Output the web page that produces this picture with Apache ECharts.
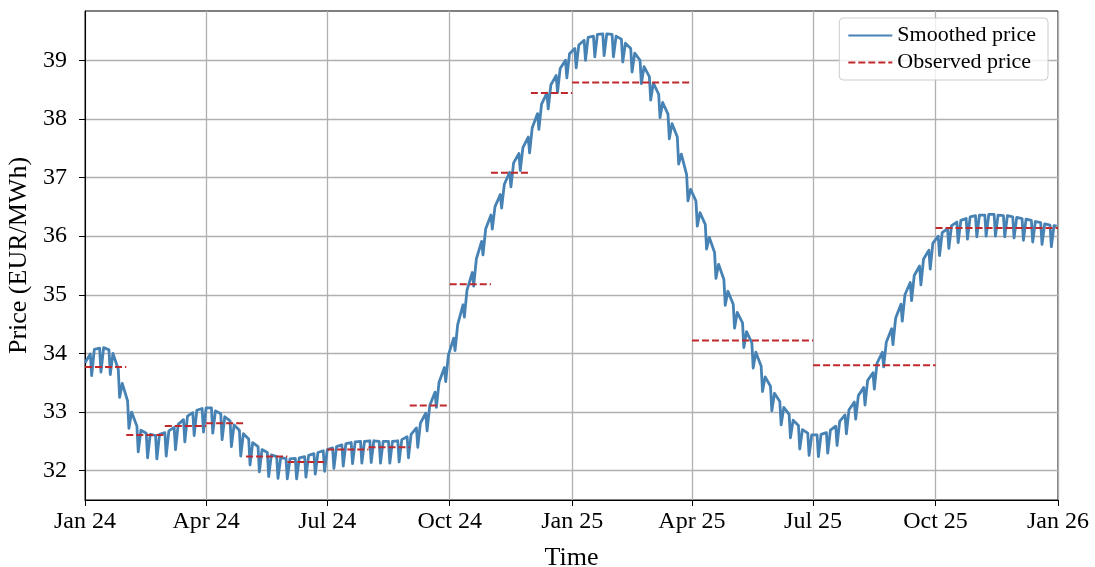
<!DOCTYPE html>
<html>
<head>
<meta charset="utf-8">
<script src="https://cdn.jsdelivr.net/npm/echarts@6/dist/echarts.min.js"></script>
<style>
  html, body { margin: 0; padding: 0; background: #ffffff; }
  #chart { width: 1095px; height: 567px; }
</style>
</head>
<body>
<div id="chart"></div>
<script>
// Smoothed daily price: one value per week for Monday, Friday and the weekend trough.
// Week k starts on Monday 1 Jan 2024 + 7k days; the last week stops on Wed 31 Dec 2025.
const mondayPrice = [
  33.84, 34.07, 34.10, 34.00, 33.49, 33.00, 32.69, 32.62, 32.62, 32.68,
  32.79, 32.93, 33.03, 33.07, 33.02, 32.92, 32.78, 32.63, 32.48, 32.36,
  32.27, 32.22, 32.20, 32.22, 32.26, 32.31, 32.36, 32.41, 32.46, 32.49,
  32.50, 32.51, 32.50, 32.50, 32.53, 32.62, 32.81, 33.11, 33.51, 33.97,
  34.49, 35.08, 35.61, 36.12, 36.50, 36.88, 37.25, 37.51, 37.85, 38.25,
  38.58, 38.86, 39.11, 39.26, 39.39, 39.44, 39.45, 39.41, 39.29, 39.12,
  38.89, 38.61, 38.28, 37.92, 37.40, 36.80, 36.40, 35.98, 35.52, 35.06,
  34.70, 34.37, 34.02, 33.60, 33.32, 33.08, 32.86, 32.70, 32.61, 32.62,
  32.69, 32.84, 33.04, 33.28, 33.54, 33.83, 34.19, 34.60, 35.00, 35.33,
  35.61, 35.88, 36.06, 36.18, 36.27, 36.33, 36.36, 36.37, 36.36, 36.35,
  36.32, 36.29, 36.25, 36.21, 36.18
];
const fridayPrice = [
  33.99, 34.09, 34.06, 33.73, 33.19, 32.76, 32.64, 32.60, 32.65, 32.74,
  32.87, 32.99, 33.06, 33.07, 32.97, 32.85, 32.69, 32.54, 32.41, 32.31,
  32.24, 32.21, 32.21, 32.24, 32.29, 32.34, 32.39, 32.44, 32.48, 32.50,
  32.51, 32.50, 32.50, 32.51, 32.58, 32.73, 32.98, 33.34, 33.76, 34.26,
  34.83, 35.38, 35.91, 36.36, 36.71, 37.09, 37.41, 37.69, 38.09, 38.44,
  38.74, 39.00, 39.20, 39.34, 39.41, 39.45, 39.44, 39.36, 39.20, 39.00,
  38.72, 38.42, 38.08, 37.69, 37.05, 36.60, 36.20, 35.72, 35.26, 34.84,
  34.52, 34.18, 33.78, 33.44, 33.18, 32.96, 32.77, 32.64, 32.61, 32.65,
  32.76, 32.95, 33.17, 33.42, 33.67, 34.02, 34.42, 34.84, 35.21, 35.49,
  35.76, 36.00, 36.13, 36.24, 36.30, 36.35, 36.36, 36.37, 36.35, 36.33,
  36.30, 36.27, 36.23, 36.19, 36.17
];
const weekendPrice = [
  33.62, 33.68, 33.64, 33.25, 32.72, 32.32, 32.22, 32.20, 32.25, 32.36,
  32.49, 32.60, 32.66, 32.64, 32.53, 32.41, 32.25, 32.10, 31.98, 31.90,
  31.87, 31.86, 31.86, 31.89, 31.94, 31.99, 32.04, 32.08, 32.12, 32.13,
  32.14, 32.13, 32.13, 32.15, 32.22, 32.40, 32.68, 33.08, 33.52, 34.05,
  34.62, 35.15, 35.68, 36.12, 36.48, 36.84, 37.12, 37.42, 37.82, 38.17,
  38.45, 38.70, 38.87, 39.00, 39.06, 39.08, 39.06, 38.97, 38.80, 38.60,
  38.32, 38.02, 37.66, 37.23, 36.60, 36.17, 35.78, 35.28, 34.82, 34.43,
  34.10, 33.75, 33.35, 33.02, 32.78, 32.56, 32.37, 32.26, 32.24, 32.30,
  32.43, 32.63, 32.88, 33.12, 33.39, 33.77, 34.15, 34.55, 34.90, 35.17,
  35.44, 35.67, 35.79, 35.89, 35.95, 35.99, 36.00, 36.00, 35.99, 35.97,
  35.93, 35.90, 35.86, 35.82
];

// Observed delivery-period prices (months, then quarters)
const observedStart = ['2024-01-01', '2024-02-01', '2024-03-01', '2024-04-01', '2024-05-01', '2024-06-01',
  '2024-07-01', '2024-08-01', '2024-09-01', '2024-10-01', '2024-11-01', '2024-12-01',
  '2025-01-01', '2025-04-01', '2025-07-01', '2025-10-01'];
const observedEnd = ['2024-02-01', '2024-03-01', '2024-04-01', '2024-05-01', '2024-06-01', '2024-07-01',
  '2024-08-01', '2024-09-01', '2024-10-01', '2024-11-01', '2024-12-01', '2025-01-01',
  '2025-04-01', '2025-07-01', '2025-10-01', '2026-01-01'];
const observedPrice = [33.77, 32.61, 32.76, 32.81, 32.24, 32.15, 32.36, 32.40, 33.11, 35.18, 37.08, 38.44,
  38.62, 34.22, 33.80, 36.14];

// Axis ticks
const xTickDates = ['2024-01-01', '2024-04-01', '2024-07-01', '2024-10-01', '2025-01-01',
  '2025-04-01', '2025-07-01', '2025-10-01', '2026-01-01'];
const xTickLabels = ['Jan 24', 'Apr 24', 'Jul 24', 'Oct 24', 'Jan 25', 'Apr 25', 'Jul 25', 'Oct 25', 'Jan 26'];
const yTicks = [32, 33, 34, 35, 36, 37, 38, 39];

const DAY = 86400000;
const utc = s => { const [y, m, d] = s.split('-').map(Number); return Date.UTC(y, m - 1, d); };
const firstMonday = utc('2024-01-01');
const lastDay = utc('2025-12-31');

const smoothed = [];
mondayPrice.forEach((p, k) => {
  const mon = firstMonday + k * 7 * DAY;
  smoothed.push([mon, p]);
  smoothed.push([Math.min(mon + 4 * DAY, lastDay), fridayPrice[k]]);
  if (k < weekendPrice.length) {
    smoothed.push([mon + 5 * DAY, weekendPrice[k]]);
    smoothed.push([mon + 6 * DAY, weekendPrice[k]]);
  }
});

const observed = [];
observedPrice.forEach((p, i) => {
  observed.push([utc(observedStart[i]), p], [utc(observedEnd[i]), p], [utc(observedEnd[i]), '-']);
});

const tickValues = xTickDates.map(utc);
const labelOf = {};
tickValues.forEach((t, i) => { labelOf[t] = xTickLabels[i]; });

const FONT = 'Liberation Serif';
const GRID_GREY = '#b0b0b0';
const chart = echarts.init(document.getElementById('chart'), null, { renderer: 'canvas' });
chart.setOption({
  animation: false,
  backgroundColor: '#ffffff',
  grid: {
    left: 85, right: 37, top: 11, bottom: 67,
    outerBoundsMode: 'none', containLabel: false,
    show: true, borderColor: '#000', borderWidth: 1, backgroundColor: 'transparent'
  },
  legend: {
    right: 47, top: 18, orient: 'vertical',
    padding: [6, 12, 6, 8], itemGap: 4, itemWidth: 44, itemHeight: 22,
    backgroundColor: 'rgba(255,255,255,0.8)', borderColor: '#cccccc', borderWidth: 1, borderRadius: 4,
    itemStyle: { opacity: 0 },
    textStyle: { fontFamily: FONT, fontSize: 22, color: '#000', lineHeight: 23 },
    data: ['Smoothed price', 'Observed price']
  },
  xAxis: {
    type: 'value',
    min: tickValues[0], max: tickValues[tickValues.length - 1],
    name: 'Time', nameLocation: 'middle', nameGap: 45,
    nameTextStyle: { fontFamily: FONT, fontSize: 26, color: '#000' },
    axisLine: { show: true, lineStyle: { color: '#000', width: 1 } },
    axisTick: { show: true, length: 6, lineStyle: { color: '#000' }, customValues: tickValues },
    axisLabel: {
      customValues: tickValues, margin: 10,
      fontFamily: FONT, fontSize: 24, color: '#000',
      formatter: v => labelOf[v] || ''
    },
    splitLine: { show: true, lineStyle: { color: GRID_GREY, width: 1.3 } }
  },
  yAxis: {
    type: 'value',
    min: 31.5, max: 39.84,
    name: 'Price (EUR/MWh)', nameLocation: 'middle', nameGap: 52,
    nameTextStyle: { fontFamily: FONT, fontSize: 26, color: '#000' },
    axisLine: { show: true, lineStyle: { color: '#000', width: 1 } },
    axisTick: { show: true, length: 6, lineStyle: { color: '#000' }, customValues: yTicks },
    axisLabel: { customValues: yTicks, margin: 18, fontFamily: FONT, fontSize: 24, color: '#000' },
    splitLine: { show: true, lineStyle: { color: GRID_GREY, width: 1.3 } }
  },
  series: [
    {
      name: 'Smoothed price', type: 'line', data: smoothed,
      showSymbol: false, symbol: 'none', z: 3,
      lineStyle: { color: '#4682b4', width: 2.8, join: 'round' },
      itemStyle: { color: '#4682b4' }
    },
    {
      name: 'Observed price', type: 'line', data: observed, connectNulls: false,
      showSymbol: false, symbol: 'none', z: 4,
      lineStyle: { color: '#c0282c', width: 2, type: [7, 3] },
      itemStyle: { color: '#c0282c' }
    }
  ]
});
</script>
</body>
</html>
